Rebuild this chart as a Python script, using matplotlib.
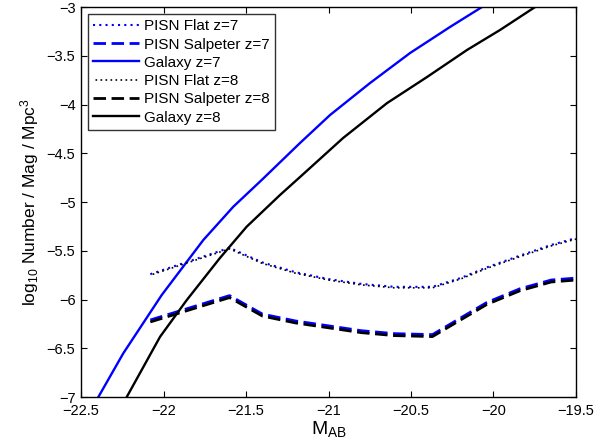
import matplotlib
matplotlib.use("Agg")
import matplotlib.pyplot as plt
import numpy as np

plt.rcParams['font.family'] = ['Liberation Sans', 'DejaVu Sans']
plt.rcParams['mathtext.fontset'] = 'custom'
plt.rcParams['mathtext.rm'] = 'Liberation Sans'
plt.rcParams['mathtext.it'] = 'Liberation Sans'
plt.rcParams['axes.unicode_minus'] = True

# galaxy luminosity functions
gal7_m = [-22.395, -22.244, -22.011, -21.759, -21.577, -21.405, -21.173, -20.991, -20.748, -20.506, -20.264, -20.07]
gal7_n = [-7.00, -6.552, -5.954, -5.39, -5.048, -4.774, -4.395, -4.108, -3.779, -3.472, -3.205, -3.00]
gal8_m = [-22.223, -22.021, -21.859, -21.658, -21.496, -21.294, -21.173, -20.912, -20.645, -20.403, -20.161, -19.961, -19.748]
gal8_n = [-7.00, -6.382, -6.005, -5.574, -5.253, -4.928, -4.744, -4.344, -3.985, -3.718, -3.441, -3.236, -3.00]

# PISN curves
pisn_m = [-22.08, -21.60, -21.40, -21.20, -21.00, -20.80, -20.60, -20.37, -20.20, -20.04, -19.84, -19.65, -19.50]
flat7 = [-5.74, -5.47, -5.62, -5.72, -5.79, -5.84, -5.87, -5.87, -5.78, -5.67, -5.55, -5.44, -5.37]
flat8 = [-5.75, -5.48, -5.63, -5.73, -5.80, -5.85, -5.88, -5.88, -5.79, -5.68, -5.56, -5.45, -5.38]
salp7 = [-6.21, -5.96, -6.15, -6.22, -6.27, -6.32, -6.35, -6.36, -6.19, -6.03, -5.89, -5.80, -5.78]
salp8 = [-6.23, -5.98, -6.17, -6.24, -6.29, -6.34, -6.37, -6.38, -6.21, -6.05, -5.91, -5.82, -5.80]

fig = plt.figure(figsize=(6.02, 4.48), dpi=100)
ax = fig.add_axes([0.1346, 0.1138, 0.8222, 0.8705])

ax.plot(pisn_m, flat7, color='blue', ls=(0, (1, 2)), lw=1.5, label='PISN Flat z=7')
ax.plot(pisn_m, salp7, color='blue', ls=(0, (4.5, 2)), lw=2, label='PISN Salpeter z=7')
ax.plot(gal7_m, gal7_n, color='blue', ls='-', lw=1.7, label='Galaxy z=7')
ax.plot(pisn_m, flat8, color='black', ls=(1.5, (1, 2)), lw=1.2, label='PISN Flat z=8')
ax.plot(pisn_m, salp8, color='black', ls=(0, (4.5, 2)), lw=2, label='PISN Salpeter z=8')
ax.plot(gal8_m, gal8_n, color='black', ls='-', lw=1.7, label='Galaxy z=8')

ax.set_xlim(-22.5, -19.5)
ax.set_ylim(-7, -3)
xt = np.arange(-22.5, -19.4, 0.5)
yt = np.arange(-7, -2.9, 0.5)
ax.set_xticks(xt)
ax.set_yticks(yt)
ax.set_xticklabels([('%g' % v).replace('-', '\u2212') for v in xt])
ax.set_yticklabels([('%g' % v).replace('-', '\u2212') for v in yt])
ax.tick_params(direction='in', top=True, right=True, labelsize=10.5, length=4)
ax.tick_params(axis='x', pad=5)
ax.tick_params(axis='y', pad=4)
for s in ax.spines.values():
    s.set_linewidth(1.0)

ax.set_xlabel('M$_{\\mathrm{AB}}$', fontsize=14, labelpad=1)
ax.set_ylabel('log$_{10}$ Number / Mag / Mpc$^3$', fontsize=12.5, labelpad=4)

leg = ax.legend(loc='upper left', fontsize=11, frameon=True, fancybox=False,
                edgecolor='black', handlelength=3.0, borderaxespad=0.45,
                labelspacing=0.28, handletextpad=0.3, borderpad=0.35)
leg.get_frame().set_linewidth(1.0)

fig.savefig('out.png', dpi=100)
